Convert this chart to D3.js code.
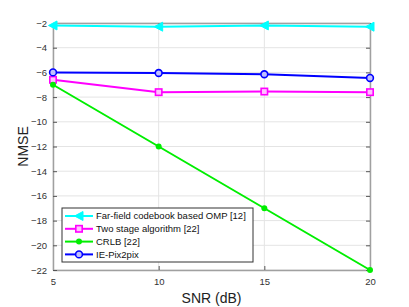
<!DOCTYPE html>
<html>
<head>
<meta charset="utf-8">
<script src="https://cdn.jsdelivr.net/npm/d3@7"></script>
<style>
  body { margin: 0; background: #fff; }
  text { font-family: "Liberation Sans", Arial, sans-serif; }
</style>
</head>
<body>
<svg id="chart" width="409" height="307"></svg>
<script>
const snr = [5, 10, 15, 20];
const xTicks = [5, 10, 15, 20];
const yTicks = [-22, -20, -18, -16, -14, -12, -10, -8, -6, -4, -2];

const ompValues = [-2.2, -2.3, -2.2, -2.3];
const twoStageValues = [-6.6, -7.6, -7.55, -7.6];
const crlbValues = [-7, -12, -17, -22];
const pix2pixValues = [-6.0, -6.05, -6.15, -6.45];

const seriesNames = ["Far-field codebook based OMP [12]", "Two stage algorithm [22]", "CRLB [22]", "IE-Pix2pix"];

const series = [
    { name: seriesNames[0], values: ompValues, color: "#00ffff", marker: "triangle" },
    { name: seriesNames[1], values: twoStageValues, color: "#ff00ff", marker: "square" },
    { name: seriesNames[2], values: crlbValues, color: "#00ee00", marker: "dot" },
    { name: seriesNames[3], values: pix2pixValues, color: "#0000ff", marker: "circle" }
];

const svg = d3.select("#chart");
const margin = { left: 53, right: 39, top: 23, bottom: 37 };
const width = 409 - margin.left - margin.right;
const height = 307 - margin.top - margin.bottom;

const x = d3.scaleLinear().domain([5, 20]).range([0, width]);
const y = d3.scaleLinear().domain([-22, -2]).range([height, 0]);

const g = svg.append("g").attr("transform", `translate(${margin.left},${margin.top})`);

// grid
g.selectAll(".gx").data(xTicks).enter().append("line")
    .attr("x1", d => x(d)).attr("x2", d => x(d))
    .attr("y1", 0).attr("y2", height)
    .style("stroke", "#e4e4e4").style("stroke-width", 1);
g.selectAll(".gy").data(yTicks).enter().append("line")
    .attr("x1", 0).attr("x2", width)
    .attr("y1", d => y(d)).attr("y2", d => y(d))
    .style("stroke", "#e4e4e4").style("stroke-width", 1);

// axes with inward ticks
g.append("g").attr("transform", `translate(0,${height})`)
    .call(d3.axisBottom(x).tickValues(xTicks).tickSize(-4).tickPadding(8).tickSizeOuter(0));
g.append("g")
    .call(d3.axisLeft(y).tickValues(yTicks).tickSize(-4).tickPadding(6).tickSizeOuter(0));
g.append("g").attr("transform", `translate(${width},0)`)
    .call(d3.axisRight(y).tickValues(yTicks).tickSize(-4).tickFormat("").tickSizeOuter(0));
g.append("g")
    .call(d3.axisTop(x).tickValues(xTicks).tickSize(-4).tickFormat("").tickSizeOuter(0));

g.selectAll(".domain").style("stroke", "#a0a0a0").style("stroke-width", 1.5);
g.selectAll(".tick line").style("stroke", "#555");
g.selectAll(".tick text").style("font-size", "9.5px").style("fill", "#333")
    .style("font-family", "'Liberation Sans', Arial, sans-serif");

// lines
const line = d3.line().x((d, i) => x(snr[i])).y(d => y(d));

function drawMarker(sel, type, color) {
    if (type === "triangle") {
        sel.append("path").attr("d", "M-4.5,0 L4,-4.5 L4,4.5 Z")
            .style("fill", color).style("stroke", color).style("stroke-width", 1);
    } else if (type === "square") {
        sel.append("rect").attr("x", -3.2).attr("y", -3.2).attr("width", 6.4).attr("height", 6.4)
            .style("fill", "#ffc0ff").style("stroke", color).style("stroke-width", 1.6);
    } else if (type === "dot") {
        sel.append("circle").attr("r", 3).style("fill", color);
    } else {
        sel.append("circle").attr("r", 3.4)
            .style("fill", "#c0c0ff").style("stroke", color).style("stroke-width", 1.6);
    }
}

series.forEach(s => {
    g.append("path").datum(s.values).attr("d", line)
        .style("fill", "none").style("stroke", s.color).style("stroke-width", 2);
    s.values.forEach((v, i) => {
        const m = g.append("g").attr("transform", `translate(${x(snr[i])},${y(v)})`);
        drawMarker(m, s.marker, s.color);
    });
});

// legend
const legend = svg.append("g").attr("transform", "translate(62,208)");
legend.append("rect").attr("width", 191).attr("height", 54)
    .style("fill", "#fff").style("stroke", "#333").style("stroke-width", 1);
series.forEach((s, i) => {
    const row = legend.append("g").attr("transform", `translate(0,${8 + i * 12.8})`);
    row.append("line").attr("x1", 3).attr("x2", 31).attr("y1", 0).attr("y2", 0)
        .style("stroke", s.color).style("stroke-width", 2);
    const m = row.append("g").attr("transform", "translate(17,0)");
    drawMarker(m, s.marker, s.color);
    row.append("text").attr("x", 34).attr("y", 0).attr("dy", "0.35em")
        .style("font-size", "9.5px").style("fill", "#111").text(s.name);
});

// axis titles
svg.append("text").attr("x", margin.left + width / 2).attr("y", 303)
    .attr("text-anchor", "middle").style("font-size", "14px").style("fill", "#222")
    .text("SNR (dB)");
svg.append("text")
    .attr("transform", `translate(28,${margin.top + height / 2}) rotate(-90)`)
    .attr("text-anchor", "middle").style("font-size", "14px").style("fill", "#222")
    .text("NMSE");
</script>
</body>
</html>
